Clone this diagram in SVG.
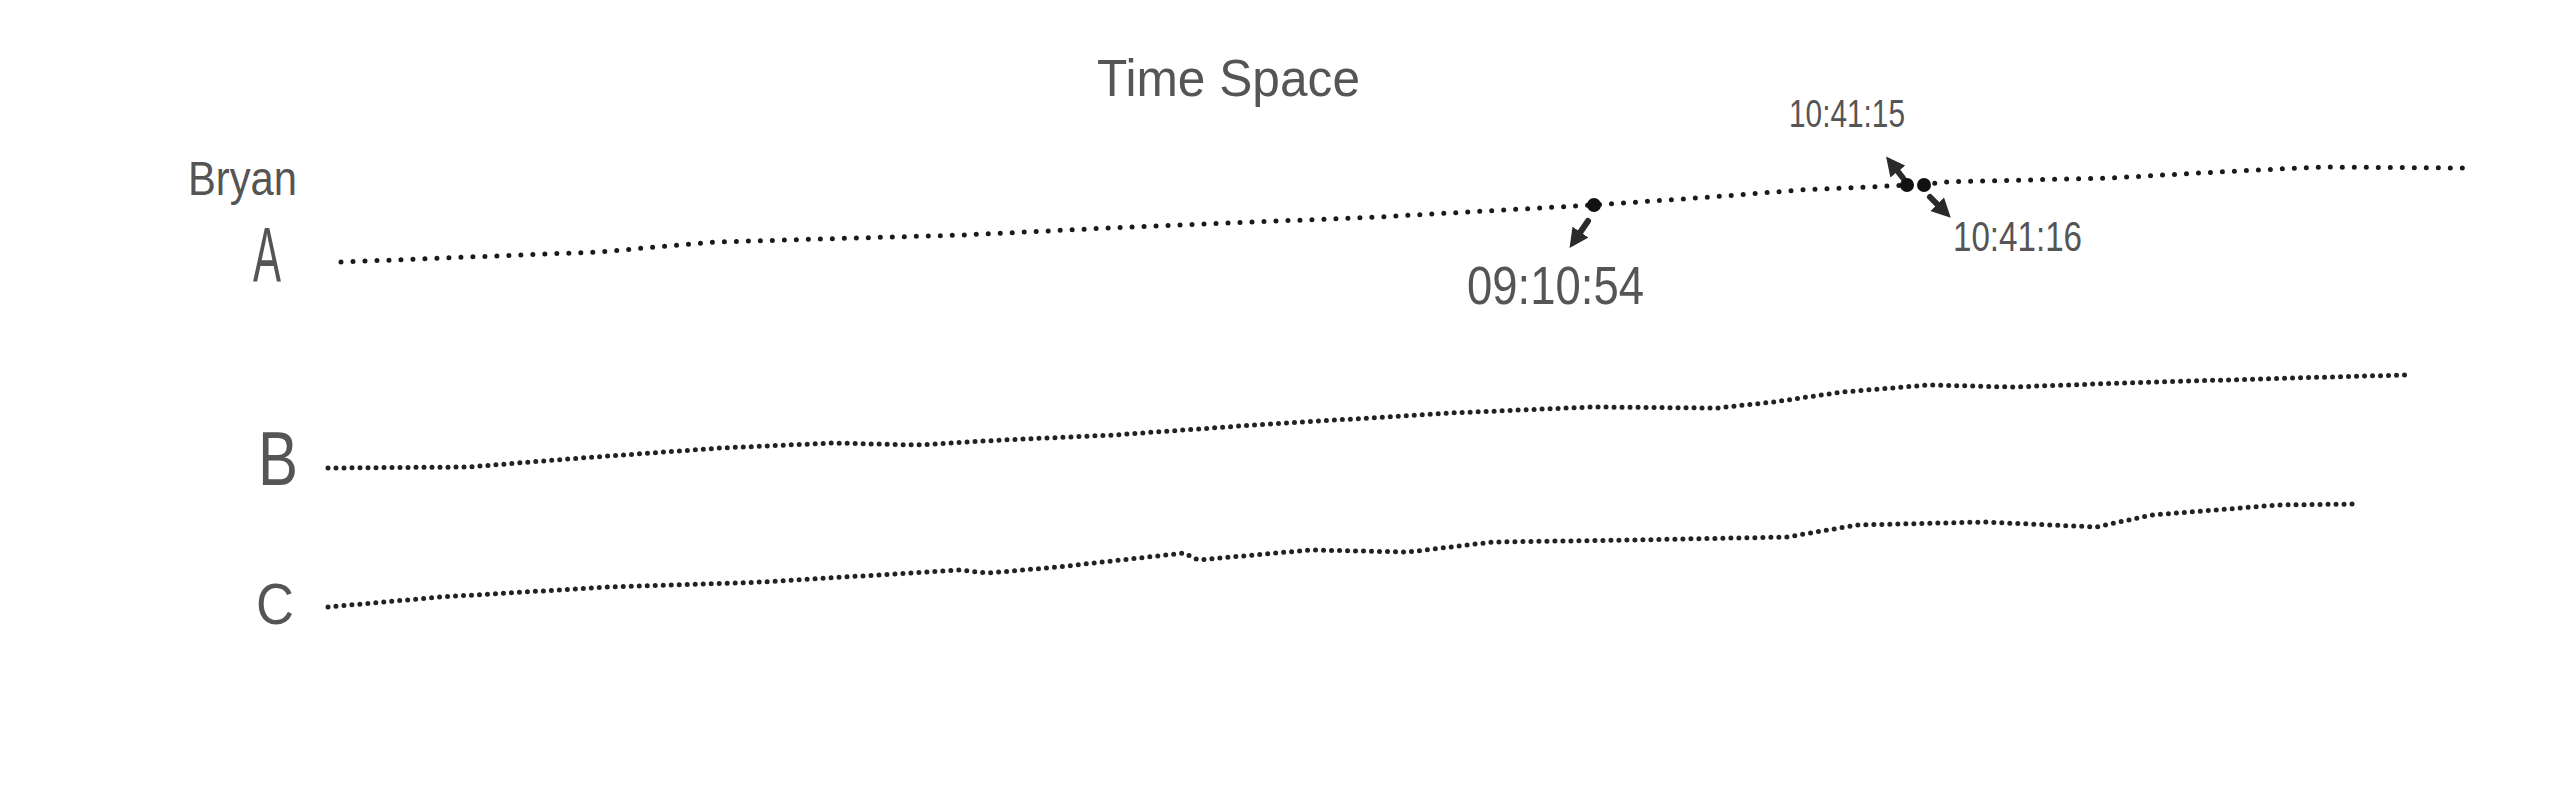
<svg xmlns="http://www.w3.org/2000/svg" width="2560" height="796" viewBox="0 0 2560 796">
<style>
.hw{font-family:"Liberation Sans",Arial,sans-serif;fill:#555555;}
.dotsA{fill:none;stroke:#1a1a1a;stroke-width:5;stroke-linecap:round;stroke-dasharray:0 12;}
.dotsBC{fill:none;stroke:#222;stroke-width:5;stroke-linecap:round;stroke-dasharray:0 8;}
.arr{stroke:#2a2a2a;stroke-width:6;stroke-linecap:round;fill:none;marker-end:url(#ah);}
.big{fill:#111;}
</style>
<defs>
<marker id="ah" viewBox="0 0 10 10" refX="5" refY="5" markerWidth="3.2" markerHeight="3.2" orient="auto">
<path d="M0,0 L10,5 L0,10 Z" fill="#2a2a2a"/>
</marker>
</defs>
<rect width="2560" height="796" fill="#ffffff"/>
<g id="title"><text class="hw" x="1097" y="96" font-size="52" textLength="263" lengthAdjust="spacingAndGlyphs">Time Space</text></g>
<g id="bryan"><text class="hw" x="188" y="195" font-size="48" textLength="109" lengthAdjust="spacingAndGlyphs">Bryan</text></g>
<g id="labelA"><text class="hw" x="253" y="282" font-size="78" textLength="28" lengthAdjust="spacingAndGlyphs">A</text></g>
<g id="labelB"><text class="hw" x="258" y="485" font-size="76" textLength="40" lengthAdjust="spacingAndGlyphs">B</text></g>
<g id="labelC"><text class="hw" x="256" y="624" font-size="58" textLength="38" lengthAdjust="spacingAndGlyphs">C</text></g>
<g id="connectors">
<path id="lineA" class="dotsA" d="M341,262 L598,252 L715,242 L963,235 L1129,227 L1378,217 L1594,205 L1711,197 L1800,190 L1889,186 L1907,185 L1924,185 L1942,182 L2110,178 L2237,171 L2321,167 L2468,168"/>
<path id="lineB" class="dotsBC" d="M328,468 L468,467 L581,458 L721,448 L833,443 L917,445 L1002,440 L1114,435 L1254,425 L1451,413 L1591,407 L1717,408 L1773,402 L1843,392 L1928,385 L2012,387 L2124,383 L2292,378 L2405,375"/>
<path id="lineC" class="dotsBC" d="M328,607 L440,597 L609,587 L763,582 L959,570 L988,573 L1058,567 L1184,553 L1198,560 L1310,550 L1408,552 L1493,542 L1633,540 L1787,537 L1857,525 L1984,522 L2096,527 L2152,515 L2278,505 L2356,504"/>
<line class="arr" x1="1588" y1="221" x2="1575" y2="240"/>
<line class="arr" x1="1903" y1="178" x2="1892" y2="164"/>
<line class="arr" x1="1930" y1="197" x2="1944" y2="211"/>
</g>
<g id="event1"><circle class="big" cx="1594" cy="205" r="7"/><text class="hw" x="1467" y="304" font-size="54" textLength="177" lengthAdjust="spacingAndGlyphs">09:10:54</text></g>
<g id="event2"><circle class="big" cx="1907" cy="185" r="7"/><text class="hw" x="1789" y="127" font-size="38" textLength="116" lengthAdjust="spacingAndGlyphs">10:41:15</text></g>
<g id="event3"><circle class="big" cx="1924" cy="185" r="7"/><text class="hw" x="1953" y="251" font-size="42" textLength="129" lengthAdjust="spacingAndGlyphs">10:41:16</text></g>
</svg>
